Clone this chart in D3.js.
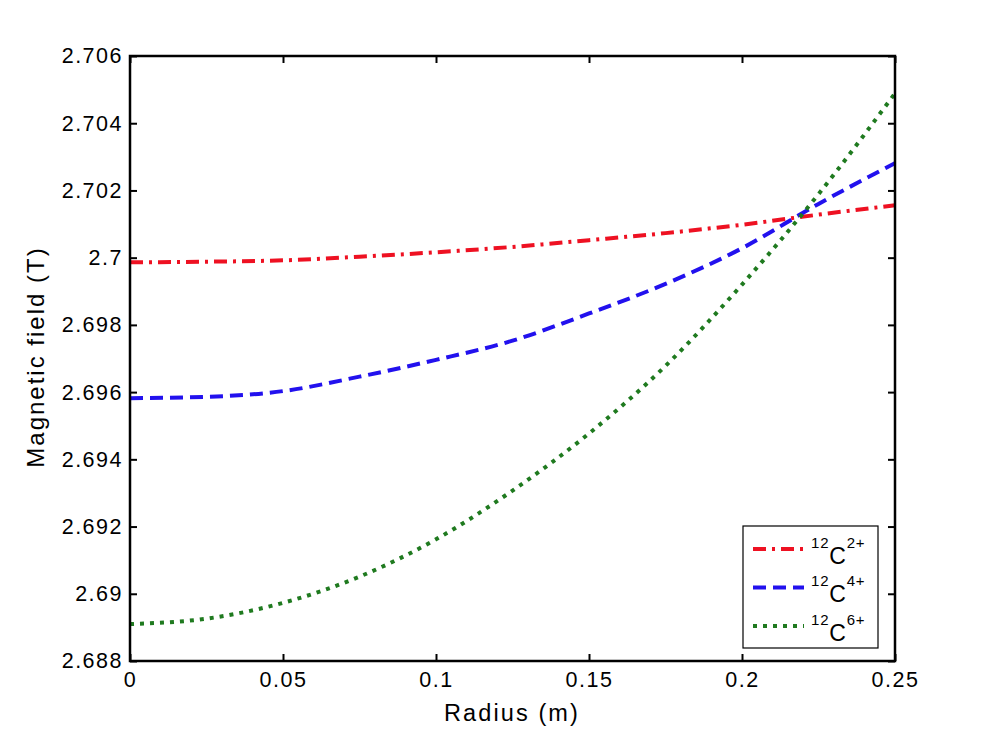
<!DOCTYPE html>
<html>
<head>
<meta charset="utf-8">
<script src="https://cdn.jsdelivr.net/npm/d3@7/dist/d3.min.js"></script>
<style>
  body { margin: 0; background: #fff; }
  svg { display: block; }
  text { font-family: "Liberation Sans", Arial, sans-serif; fill: #000; }
</style>
</head>
<body>
<div class="canvas"><svg width="991" height="744"></svg></div>
<script>
// values
var radius = [0, 0.025, 0.05, 0.075, 0.1, 0.125, 0.15, 0.175, 0.2, 0.225, 0.25];
var fieldC2 = [2.69986, 2.69988, 2.69992, 2.70003, 2.70016, 2.70032, 2.70052, 2.70073, 2.70098, 2.70128, 2.70156];
var fieldC4 = [2.69582, 2.69586, 2.69603, 2.69646, 2.69696, 2.69753, 2.69834, 2.69922, 2.70028, 2.70160, 2.70281];
var fieldC6 = [2.68910, 2.68926, 2.68973, 2.69051, 2.69162, 2.69307, 2.69477, 2.69678, 2.69920, 2.70189, 2.70489];

var seriesNames = ["2+", "4+", "6+"];
var xTicks = [0, 0.05, 0.1, 0.15, 0.2, 0.25];
var yTicks = [2.688, 2.690, 2.692, 2.694, 2.696, 2.698, 2.700, 2.702, 2.704, 2.706];

var plotLeft = 130, plotRight = 895, plotTop = 56, plotBottom = 661;

var svg = d3.select(".canvas").select("svg");

var scaleX = d3.scaleLinear()
    .domain([0, 0.25])
    .range([plotLeft, plotRight]);

var scaleY = d3.scaleLinear()
    .domain([2.688, 2.706])
    .range([plotBottom, plotTop]);

var styles = [
    {color: "#ee1122", dash: "13,6,3,6"},
    {color: "#2211ee", dash: "13,7"},
    {color: "#1f7a1f", dash: "4,6"}
];

var series = [fieldC2, fieldC4, fieldC6].map(function(vals, i){
    return {
        name: seriesNames[i],
        points: radius.map(function(r, j){ return [r, vals[j]]; })
    };
});

var line = d3.line()
    .x(function(d){ return scaleX(d[0]); })
    .y(function(d){ return scaleY(d[1]); })
    .curve(d3.curveMonotoneX);

var plot = svg.append("g").attr("class", "plot");

plot.selectAll(".series")
    .data(series)
    .enter()
    .append("path")
    .attr("class", "series")
    .attr("d", function(d){ return line(d.points); })
    .style("fill", "none")
    .style("stroke", function(d, i){ return styles[i].color; })
    .style("stroke-width", 4)
    .style("stroke-dasharray", function(d, i){ return styles[i].dash; });

//axes, ticks point inward on all four sides
function fmt(d){ return String(+d.toFixed(3)); }

svg.append("g").attr("class", "axis")
    .attr("transform", "translate(0," + plotBottom + ")")
    .call(d3.axisBottom(scaleX).tickValues(xTicks).tickFormat(fmt).tickSizeInner(-7).tickSizeOuter(0).tickPadding(11));
svg.append("g").attr("class", "axis")
    .attr("transform", "translate(0," + plotTop + ")")
    .call(d3.axisBottom(scaleX).tickValues(xTicks).tickFormat("").tickSizeInner(7).tickSizeOuter(0));
svg.append("g").attr("class", "axis")
    .attr("transform", "translate(" + plotLeft + ",0)")
    .call(d3.axisLeft(scaleY).tickValues(yTicks).tickFormat(fmt).tickSizeInner(-7).tickSizeOuter(0).tickPadding(7));
svg.append("g").attr("class", "axis")
    .attr("transform", "translate(" + plotRight + ",0)")
    .call(d3.axisLeft(scaleY).tickValues(yTicks).tickFormat("").tickSizeInner(7).tickSizeOuter(0));

svg.selectAll(".axis .domain").remove();
svg.selectAll(".axis line").style("stroke", "#000").style("stroke-width", 2);
svg.selectAll(".axis text")
    .style("font-family", "'Liberation Sans', Arial, sans-serif")
    .style("font-size", "21.5px")
    .style("letter-spacing", "1.5px")
    .style("fill", "#000");

svg.append("rect")
    .attr("x", plotLeft).attr("y", plotTop)
    .attr("width", plotRight - plotLeft).attr("height", plotBottom - plotTop)
    .style("fill", "none").style("stroke", "#000").style("stroke-width", 2.5);

svg.append("text")
    .attr("x", 512).attr("y", 721)
    .attr("text-anchor", "middle")
    .style("font-size", "23.5px")
    .style("letter-spacing", "2.1px")
    .text("Radius (m)");

svg.append("text")
    .attr("transform", "translate(44,357) rotate(-90)")
    .attr("text-anchor", "middle")
    .style("font-size", "24px")
    .style("letter-spacing", "2px")
    .text("Magnetic field (T)");

//legend
var legend = svg.append("g").attr("class", "legend");
legend.append("rect")
    .attr("x", 743).attr("y", 526)
    .attr("width", 135).attr("height", 122)
    .style("fill", "#fff").style("stroke", "#000").style("stroke-width", 1.2);

var rows = legend.selectAll(".row")
    .data(series)
    .enter()
    .append("g")
    .attr("class", "row")
    .attr("transform", function(d, i){ return "translate(0," + (563.5 + i * 38.5) + ")"; });

rows.append("line")
    .attr("x1", 753).attr("x2", 804)
    .attr("y1", -14.5).attr("y2", -14.5)
    .style("stroke", function(d, i){ return styles[i].color; })
    .style("stroke-width", 4)
    .style("stroke-dasharray", function(d, i){ return styles[i].dash; });

var label = rows.append("text")
    .attr("x", 811).attr("y", 0)
    .style("letter-spacing", "0.8px");
label.append("tspan").attr("dy", -16).style("font-size", "15px").text("12");
label.append("tspan").attr("dy", 16).style("font-size", "23px").text("C");
label.append("tspan").attr("dy", -16).style("font-size", "15px").text(function(d){ return d.name; });
</script>
</body>
</html>
